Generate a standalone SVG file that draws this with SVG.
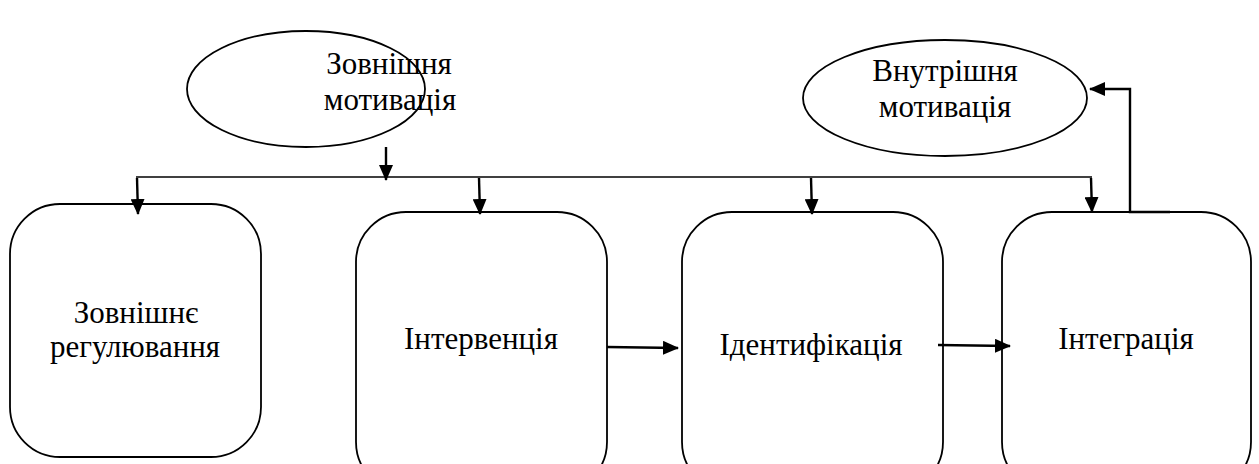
<svg xmlns="http://www.w3.org/2000/svg" width="1259" height="464" viewBox="0 0 1259 464" font-family="Liberation Serif">
<style>
.n{fill:#fff;stroke:#000;stroke-width:1.8}
.t{font-size:31px;fill:#000;text-anchor:middle}
.c{fill:none;stroke:#000;stroke-width:2.4}
.l{fill:none;stroke:#000;stroke-width:1.4}
</style>
<defs>
<marker id="b" markerWidth="16" markerHeight="14" refX="15" refY="7" orient="auto" markerUnits="userSpaceOnUse" viewBox="0 0 16 14">
<path d="M0,0 L16,7 L0,14 z" fill="#000"/>
</marker>
</defs>
<g id="ext-motivation">
<ellipse class="n" cx="306" cy="89" rx="119" ry="58"/>
<text class="t" font-family="Liberation Serif" x="389" y="74">Зовнішня</text>
<text class="t" font-family="Liberation Serif" x="390" y="110">мотивація</text>
</g>
<g id="int-motivation">
<ellipse class="n" cx="945" cy="98" rx="142" ry="58"/>
<text class="t" font-family="Liberation Serif" x="945" y="81">Внутрішня</text>
<text class="t" font-family="Liberation Serif" x="945" y="117">мотивація</text>
</g>
<g id="ext-regulation">
<rect class="n" x="10" y="204" width="251" height="253" rx="50" ry="50"/>
<text class="t" font-family="Liberation Serif" x="136" y="323">Зовнішнє</text>
<text class="t" font-family="Liberation Serif" x="135" y="357">регулювання</text>
</g>
<g id="intervention">
<rect class="n" x="356" y="212" width="251" height="280" rx="50" ry="50"/>
<text class="t" font-family="Liberation Serif" x="481" y="349">Інтервенція</text>
</g>
<g id="identification">
<rect class="n" x="682" y="212" width="261" height="280" rx="50" ry="50"/>
<text class="t" font-family="Liberation Serif" x="811" y="355">Ідентифікація</text>
</g>
<g id="integration">
<rect class="n" x="1002" y="212" width="249" height="280" rx="50" ry="50"/>
<text class="t" font-family="Liberation Serif" x="1126" y="349">Інтеграція</text>
</g>
<g id="connectors">
<line class="l" x1="136" y1="177" x2="1092" y2="177"/>
<line class="c" x1="386" y1="147" x2="386" y2="180" marker-end="url(#b)"/>
<line class="c" x1="137" y1="178" x2="138" y2="214" marker-end="url(#b)"/>
<line class="c" x1="479" y1="178" x2="480" y2="214" marker-end="url(#b)"/>
<line class="c" x1="811" y1="178" x2="812" y2="214" marker-end="url(#b)"/>
<line class="c" x1="1091" y1="178" x2="1092" y2="212" marker-end="url(#b)"/>
<polyline class="c" points="1170,212 1130,212 1130,89 1090,89" marker-end="url(#b)"/>
<line class="c" x1="607" y1="347" x2="678" y2="348" marker-end="url(#b)"/>
<line class="c" x1="938" y1="345" x2="1010" y2="346" marker-end="url(#b)"/>
</g>
</svg>
